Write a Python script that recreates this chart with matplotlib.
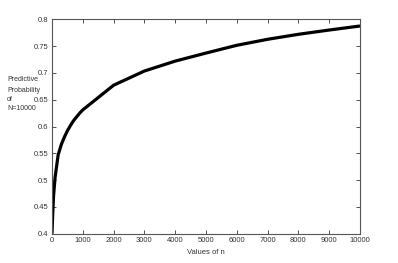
import matplotlib
matplotlib.use("Agg")
import matplotlib.pyplot as plt

n_values = [0, 20, 50, 100, 200, 300, 400, 500, 600, 700, 800, 900, 1000,
            2000, 3000, 4000, 5000, 6000, 7000, 8000, 9000, 10000]
prob_values = [0.400, 0.433, 0.470, 0.505, 0.547, 0.566, 0.580, 0.592, 0.602,
               0.611, 0.618, 0.625, 0.631,
               0.677, 0.7035, 0.722, 0.737, 0.7515, 0.7627, 0.772, 0.780, 0.7875]
x_ticks = list(range(0, 10001, 1000))
y_ticks = [0.4, 0.45, 0.5, 0.55, 0.6, 0.65, 0.7, 0.75, 0.8]
y_tick_labels = ["0.4", "0.45", "0.5", "0.55", "0.6", "0.65", "0.7", "0.75", "0.8"]
ylabel_lines = ["Predictive", "Probability", "of", "N=10000"]

plt.rcParams['font.family'] = ['Liberation Sans', 'DejaVu Sans']

W, H = 398, 263
fig = plt.figure(figsize=(W / 100, H / 100), dpi=100)
ax = fig.add_axes([52 / W, 1 - 233.7 / H, (360 - 52) / W, (233.7 - 19.3) / H])

ax.plot(n_values, prob_values, color='black', linewidth=2.3, solid_capstyle='butt')
ax.set_xlim(0, 10000)
ax.set_ylim(0.4, 0.8)
ax.set_xticks(x_ticks)
ax.set_xticklabels([str(t) for t in x_ticks])
ax.set_yticks(y_ticks)
ax.set_yticklabels(y_tick_labels)

for s in ax.spines.values():
    s.set_color('#555555')
    s.set_linewidth(0.8)
ax.tick_params(direction='in', length=3, width=0.6, colors='#333333',
               labelsize=5.5, top=True, right=True, pad=2.5)

line_y = [80, 90, 99.5, 109]
for txt, yy in zip(ylabel_lines, line_y):
    fig.text(7 / W, 1 - yy / H, txt, ha='left', va='center',
             fontsize=5.0, color='#333333')
fig.text(206 / W, 1 - 252 / H, "Values of n", ha='center', va='center',
         fontsize=5.5, color='#333333')

fig.savefig("out.png", dpi=100)
